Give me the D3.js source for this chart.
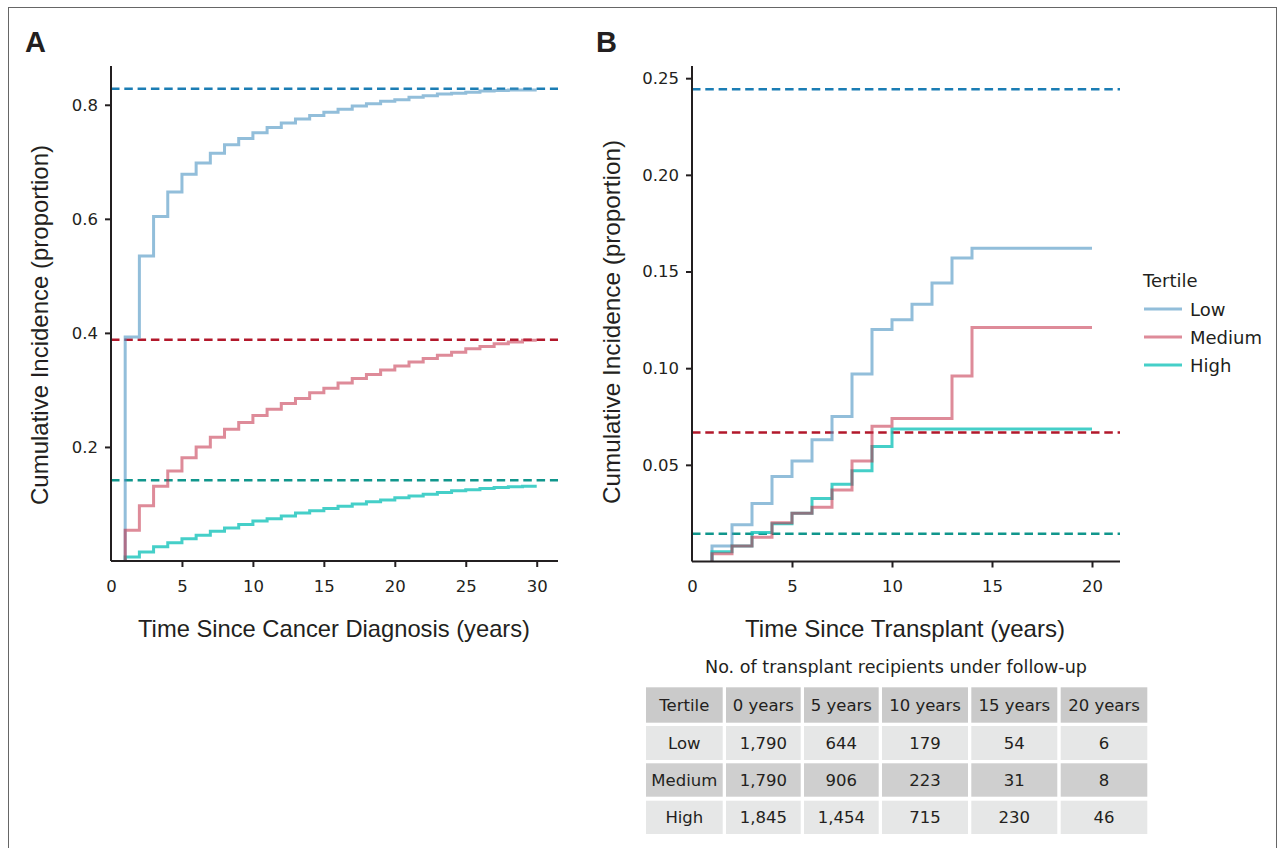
<!DOCTYPE html>
<html>
<head>
<meta charset="utf-8">
<script src="https://cdn.jsdelivr.net/npm/d3@7"></script>
<style>
  html, body { margin: 0; padding: 0; background: #fff; }
  svg { display: block; }
  .lbl { font-family: "DejaVu Sans", "Liberation Sans", Arial, sans-serif; fill: #231f20; }
  .bold { font-family: "Liberation Sans", Arial, Helvetica, sans-serif; fill: #231f20; font-weight: bold; }
  .cond { font-family: "Liberation Sans Narrow", "Arial Narrow", "Liberation Sans", Arial, sans-serif; fill: #231f20; }
</style>
</head>
<body>
<svg id="chart" width="1279" height="848"></svg>
<script>
// ---------- Data ----------
const seriesNames = ["Low", "Medium", "High"];

// Panel A: cumulative incidence by years since cancer diagnosis
const aYears = [1,2,3,4,5,6,7,8,9,10,11,12,13,14,15,16,17,18,19,20,21,22,23,24,25,26,27,28,29,30];
const aLow = [0.393,0.535,0.604,0.647,0.678,0.698,0.715,0.730,0.741,0.751,0.760,0.768,0.775,0.781,0.787,0.792,0.798,0.802,0.806,0.809,0.813,0.816,0.819,0.820,0.822,0.824,0.825,0.826,0.826,0.826];
const aMedium = [0.054,0.097,0.131,0.158,0.181,0.200,0.217,0.231,0.243,0.255,0.266,0.276,0.285,0.295,0.303,0.312,0.320,0.327,0.335,0.342,0.349,0.355,0.361,0.366,0.372,0.376,0.381,0.384,0.387,0.387];
const aHigh = [0.007,0.016,0.025,0.032,0.039,0.045,0.052,0.058,0.064,0.070,0.074,0.079,0.084,0.088,0.092,0.096,0.100,0.104,0.107,0.111,0.114,0.117,0.120,0.123,0.125,0.127,0.129,0.130,0.131,0.131];
const aRef = [0.828, 0.388, 0.1416];
const aXTicks = [0,5,10,15,20,25,30];
const aYTicks = [0.2,0.4,0.6,0.8];

// Panel B: cumulative incidence by years since transplant
const bYears = [1,2,3,4,5,6,7,8,9,10,11,12,13,14,15,16,17,18,19,20];
const bLow = [0.008,0.019,0.030,0.044,0.052,0.063,0.075,0.097,0.120,0.125,0.133,0.144,0.157,0.162,0.162,0.162,0.162,0.162,0.162,0.162];
const bMedium = [0.004,0.008,0.0126,0.020,0.025,0.028,0.037,0.052,0.070,0.074,0.074,0.074,0.096,0.121,0.121,0.121,0.121,0.121,0.121,0.121];
const bHigh = [0.005,0.008,0.015,0.0195,0.025,0.0326,0.040,0.047,0.0595,0.0685,0.0685,0.0685,0.0685,0.0685,0.0685,0.0685,0.0685,0.0685,0.0685,0.0685];
const bRef = [0.2443, 0.0667, 0.0143];
const bXTicks = [0,5,10,15,20];
const bYTicks = [0.05,0.10,0.15,0.20,0.25];

// Table
const tableTitle = "No. of transplant recipients under follow-up";
const tableHeader = ["Tertile","0 years","5 years","10 years","15 years","20 years"];
const tableLow = ["Low","1,790","644","179","54","6"];
const tableMedium = ["Medium","1,790","906","223","31","8"];
const tableHigh = ["High","1,845","1,454","715","230","46"];

// ---------- Styles ----------
// semi-transparent strokes (look like #92bedb, #de8b99, #45cfc8 on white)
const lineColors = ["rgb(73,147,193)", "rgb(195,44,70)", "rgb(23,195,186)"];
const lineAlpha = [0.6, 0.55, 0.8];
const drawOrder = [0, 2, 1];
const refColors = ["#1b7db4", "#b2182b", "#10968c"];
const ink = "#231f20";

const svg = d3.select("#chart");

// Frame
svg.append("rect").attr("x", 8.5).attr("y", 7.5).attr("width", 1268).attr("height", 860)
  .attr("fill", "none").attr("stroke", "#666").attr("stroke-width", 1);

function panel(cfg) {
  const g = svg.append("g");
  const x = d3.scaleLinear().domain(cfg.xDomain).range(cfg.xRange);
  const y = d3.scaleLinear().domain(cfg.yDomain).range(cfg.yRange);

  // reference dashed lines
  cfg.refs.forEach((v, i) => {
    g.append("line")
      .attr("x1", x(cfg.xDomain[0])).attr("x2", x(cfg.xDomain[1]))
      .attr("y1", y(v)).attr("y2", y(v))
      .attr("stroke", refColors[i]).attr("stroke-width", 2.5)
      .attr("stroke-dasharray", "8.5,4.8");
  });

  // step curves
  const line = d3.line().x(d => x(d[0])).y(d => y(d[1])).curve(d3.curveStepAfter);
  const curves = g.append("g");
  drawOrder.forEach(i => {
    const vals = cfg.series[i];
    const pts = [[cfg.years[0], 0]].concat(cfg.years.map((yr, j) => [yr, vals[j]]));
    curves.append("path").datum(pts)
      .attr("d", line)
      .attr("fill", "none")
      .attr("stroke", lineColors[i])
      .attr("stroke-opacity", lineAlpha[i])
      .attr("stroke-width", 3);
  });

  // axes
  const xAxis = d3.axisBottom(x).tickValues(cfg.xTicks).tickSize(6).tickPadding(13).tickFormat(d3.format("d"));
  const yAxis = d3.axisLeft(y).tickValues(cfg.yTicks).tickSize(6).tickPadding(7).tickFormat(d3.format(cfg.yFmt));
  const gx = g.append("g").attr("transform", `translate(0,${cfg.yRange[0]})`).call(xAxis);
  const gy = g.append("g").attr("transform", `translate(${cfg.xRange[0]},0)`).call(yAxis);
  [gx, gy].forEach(ax => {
    ax.select(".domain").attr("stroke", ink).attr("stroke-width", 2);
    ax.selectAll(".tick line").attr("stroke", ink).attr("stroke-width", 2);
    ax.selectAll(".tick text").attr("class", "lbl").style("font-size", "16.5px").attr("fill", ink);
  });
  gx.select(".domain").attr("d", `M${cfg.xRange[0]},0H${cfg.xRange[1]}`);
  gy.select(".domain").attr("d", `M0,${cfg.yRange[0]}V${cfg.yRange[1]}`);
  gx.selectAll(".tick").filter(d => d === 0).select("line").remove();

  // axis titles
  g.append("text").attr("class", "cond")
    .attr("x", cfg.xTitlePos[0]).attr("y", cfg.xTitlePos[1])
    .attr("text-anchor", "middle").style("font-size", "24px")
    .attr("textLength", cfg.xTitleLen).attr("lengthAdjust", "spacingAndGlyphs")
    .text(cfg.xTitle);
  g.append("text").attr("class", "cond")
    .attr("transform", `translate(${cfg.yTitlePos[0]},${cfg.yTitlePos[1]}) rotate(-90)`)
    .attr("text-anchor", "middle").style("font-size", "24px")
    .attr("textLength", cfg.yTitleLen).attr("lengthAdjust", "spacingAndGlyphs")
    .text("Cumulative Incidence (proportion)");

  // panel letter
  g.append("text").attr("class", "bold")
    .attr("x", cfg.letterPos[0]).attr("y", cfg.letterPos[1])
    .style("font-size", "29px")
    .text(cfg.letter);
}

panel({
  letter: "A", letterPos: [25, 52],
  xDomain: [0, 31.5], xRange: [111, 558],
  yDomain: [0, 0.868], yRange: [561, 66],
  years: aYears, series: [aLow, aMedium, aHigh], refs: aRef,
  xTicks: aXTicks, yTicks: aYTicks, yFmt: ".1f",
  xTitle: "Time Since Cancer Diagnosis (years)", xTitlePos: [334, 637], xTitleLen: 392,
  yTitlePos: [48, 325], yTitleLen: 360
});

panel({
  letter: "B", letterPos: [596, 52],
  xDomain: [0, 21.4], xRange: [692, 1120],
  yDomain: [0, 0.2563], yRange: [561.5, 66],
  years: bYears, series: [bLow, bMedium, bHigh], refs: bRef,
  xTicks: bXTicks, yTicks: bYTicks, yFmt: ".2f",
  xTitle: "Time Since Transplant (years)", xTitlePos: [905, 637], xTitleLen: 320,
  yTitlePos: [620, 322], yTitleLen: 364
});

// Legend
const leg = svg.append("g");
leg.append("text").attr("class", "lbl").attr("x", 1143).attr("y", 287)
  .style("font-size", "18px").text("Tertile");
seriesNames.forEach((s, i) => {
  const yy = 309 + i * 28;
  leg.append("line").attr("x1", 1144).attr("x2", 1182).attr("y1", yy).attr("y2", yy)
    .attr("stroke", lineColors[i]).attr("stroke-opacity", lineAlpha[i]).attr("stroke-width", 3);
  leg.append("text").attr("class", "lbl").attr("x", 1190).attr("y", yy + 6.5)
    .style("font-size", "18px").text(s);
});

// Table
const tb = svg.append("g");
tb.append("text").attr("class", "lbl").attr("x", 896).attr("y", 673)
  .attr("text-anchor", "middle").style("font-size", "17px")
  .attr("textLength", 382).attr("lengthAdjust", "spacingAndGlyphs")
  .text(tableTitle);
const colEdges = [646, 726, 804, 882, 971.3, 1060.7];
const colWidths = [76.7, 74.7, 74.7, 86, 86, 86.6];
const rowTops = [687.3, 726, 763.3, 800.7];
const rowHeights = [35.4, 34, 33.4, 33.3];
const rows = [tableHeader, tableLow, tableMedium, tableHigh];
const rowFills = ["#cacaca", "#e6e7e7", "#cfcfcf", "#e6e7e7"];
rows.forEach((r, ri) => {
  r.forEach((cell, ci) => {
    tb.append("rect").attr("x", colEdges[ci]).attr("y", rowTops[ri])
      .attr("width", colWidths[ci]).attr("height", rowHeights[ri])
      .attr("fill", rowFills[ri]);
    tb.append("text").attr("class", "lbl")
      .attr("x", colEdges[ci] + colWidths[ci] / 2)
      .attr("y", rowTops[ri] + rowHeights[ri] / 2 + 6)
      .attr("text-anchor", "middle").style("font-size", "16.5px")
      .text(cell);
  });
});
</script>
</body>
</html>
